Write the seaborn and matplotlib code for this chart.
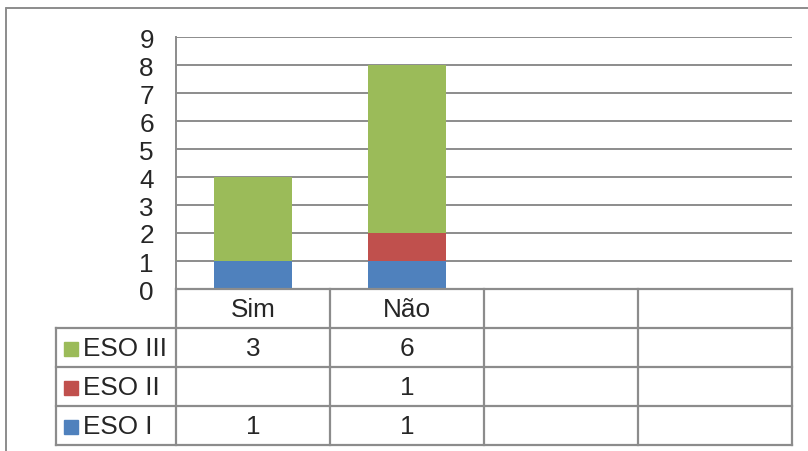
import numpy as np
import pandas as pd
import matplotlib.pyplot as plt
from matplotlib.lines import Line2D
import seaborn as sns

# data
categories = ["Sim", "Não", " ", "  "]
used = ["Sim", "Não"]
eso_i = [1, 1]
eso_ii = [None, 1]
eso_iii = [3, 6]
series_names = ["ESO III", "ESO II", "ESO I"]
colors = {"ESO I": "#4F81BD", "ESO II": "#C0504D", "ESO III": "#9BBB59"}
yticks = list(range(0, 10))

sns.set_style("white")
plt.rcParams["font.family"] = ["Liberation Sans", "DejaVu Sans"]
FS = 18.8
grid_c = "#8C8C8C"

W, H = 808, 452
fig = plt.figure(figsize=(W / 100, H / 100), dpi=100)

def px(x0, y0, x1, y1):
    return [x0 / W, 1 - y1 / H, (x1 - x0) / W, (y1 - y0) / H]

ax = fig.add_axes(px(176, 38, 792, 290))

df = pd.DataFrame({
    "cat": used,
    "i": eso_i,
    "ii": [v or 0 for v in eso_ii],
    "iii": eso_iii,
})
df["top3"] = df["i"] + df["ii"] + df["iii"]
df["top2"] = df["i"] + df["ii"]

# stacked bars drawn as overlapping cumulative totals
for col, name in [("top3", "ESO III"), ("top2", "ESO II"), ("i", "ESO I")]:
    sns.barplot(data=df, x="cat", y=col, order=categories, color=colors[name],
                saturation=1, width=0.51, linewidth=0, ax=ax, zorder=3)

ax.set_xlim(-0.5, 3.5)
ax.set_ylim(0, 9)
ax.set_yticks(yticks)
ax.set_yticklabels([str(t) for t in yticks], fontsize=FS)
ax.set_xticks([])
ax.set_xlabel("")
ax.set_ylabel("")
ax.tick_params(axis="y", length=0, pad=16)
ax.yaxis.grid(True, color=grid_c, lw=1.4, zorder=0)
ax.set_axisbelow(True)
for s in ["top", "right", "bottom"]:
    ax.spines[s].set_visible(False)
ax.spines["left"].set_color(grid_c)
ax.spines["left"].set_linewidth(1.4)

# data table below the plot
xl = -0.5 - 120 / 154
tax = fig.add_axes(px(56, 290, 792, 446))
tax.set_xlim(xl, 3.5)
tax.set_ylim(4, 0)
tax.axis("off")
lk = dict(color=grid_c, lw=1.6, clip_on=False, solid_capstyle="projecting")
tax.plot([-0.5, 3.5], [0, 0], **lk)
for r in [1, 2, 3, 4]:
    tax.plot([xl, 3.5], [r, r], **lk)
tax.plot([xl, xl], [1, 4], **lk)
for c in [-0.5, 0.5, 1.5, 2.5, 3.5]:
    tax.plot([c, c], [0, 4], **lk)

for i, cat in enumerate(categories):
    tax.text(i, 0.52, cat, ha="center", va="center", fontsize=FS)

rows = {"ESO III": eso_iii, "ESO II": eso_ii, "ESO I": eso_i}
for r, name in enumerate(series_names, start=1):
    tax.plot(xl + 14.5 / 154, r + 0.55, marker="s", ms=10, color=colors[name],
             ls="none", clip_on=False)
    tax.text(xl + 27 / 154, r + 0.52, name, ha="left", va="center", fontsize=FS)
    for i, v in enumerate(rows[name]):
        tax.text(i, r + 0.52, "" if v is None else str(v), ha="center",
                 va="center", fontsize=FS)

# outer chart frame
fig.add_artist(Line2D([6 / W, 1], [1 - 9 / H, 1 - 9 / H], transform=fig.transFigure,
                      color="#8C8C8C", lw=1.4))
fig.add_artist(Line2D([6 / W, 6 / W], [0, 1 - 9 / H], transform=fig.transFigure,
                      color="#8C8C8C", lw=1.4))

fig.savefig("out.png", dpi=100)
